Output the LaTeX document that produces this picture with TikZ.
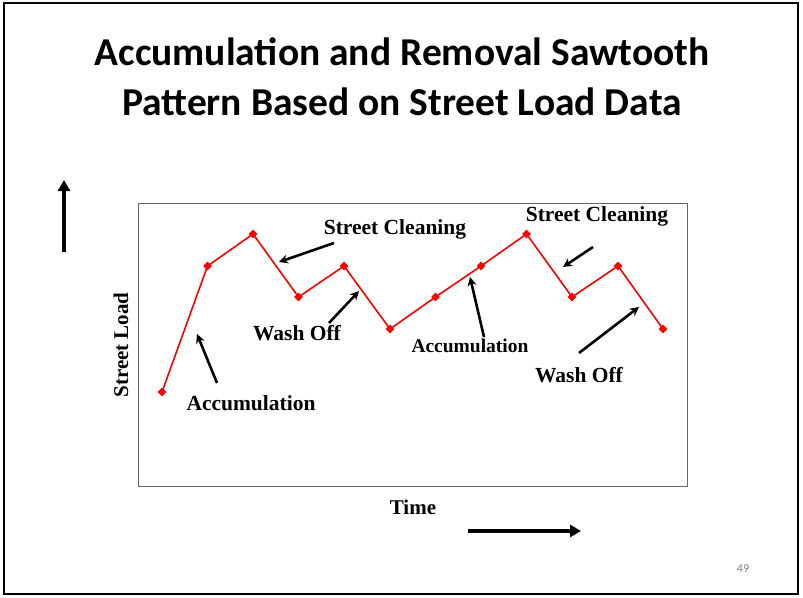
\documentclass[tikz,border=0pt]{standalone}
\usepackage{fontspec}
\setmainfont{Liberation Serif}
\newfontfamily\titlefont{Carlito}
\usetikzlibrary{shapes.geometric,arrows.meta}
\begin{document}
\begin{tikzpicture}[x=1pt,y=-1pt,
  pt/.style={diamond,fill=red,inner sep=0pt,minimum size=9pt},
  lbl/.style={font=\fontsize{21.5}{24}\selectfont\bfseries,inner sep=0pt},
  axl/.style={font=\fontsize{21}{24}\selectfont\bfseries,inner sep=0pt},
  ann/.style={line width=2.6pt,-{Stealth[length=9pt,width=9pt]}},
  big/.style={line width=4pt,-{Triangle[length=11pt,width=12pt]}}]
\useasboundingbox (0,0) rectangle (803,597);
\draw[line width=1.5pt] (4,3) rectangle (798,594);
\node[font=\titlefont\fontsize{39.5}{49.5}\selectfont\bfseries,align=center] (title) at (402,77)
  {Accumulation and Removal Sawtooth\\Pattern Based on Street Load Data};
\draw[gray!80!black,line width=0.9pt] (138,203) rectangle (687,486);
\foreach \i/\x/\y in {1/162/392,2/207.5/266,3/253/234,4/298.5/297,5/344/266,6/390/329,7/435.5/297,8/481/266,9/526.5/234,10/572/297,11/618/266,12/663/329}
  \node[pt] (p\i) at (\x,\y) {};
\draw[red,line width=1.6pt] (p1.center) -- (p2.center) -- (p3.center) -- (p4.center) -- (p5.center) -- (p6.center) -- (p7.center) -- (p8.center) -- (p9.center) -- (p10.center) -- (p11.center) -- (p12.center);
\node[lbl] (sc1) at (395,229) {Street Cleaning};
\node[lbl] (sc2) at (597,216) {Street Cleaning};
\node[lbl] (wo1) at (297,333) {Wash Off};
\node[lbl] (wo2) at (579,375) {Wash Off};
\node[lbl] (ac1) at (251,403) {Accumulation};
\node[lbl,font=\fontsize{19.5}{22}\selectfont\bfseries] (ac2) at (470,346) {Accumulation};
\node[axl,rotate=90] (sl) at (121,345) {Street Load};
\node[axl] (time) at (413,507) {Time};
\node[font=\titlefont\fontsize{12}{14}\selectfont,text=gray] (pg) at (743,569) {49};
\coordinate (a1s) at (334,243); \coordinate (a1e) at (279,262);
\coordinate (a2s) at (329,323); \coordinate (a2e) at (359,291);
\coordinate (a3s) at (217,383); \coordinate (a3e) at (197,334);
\coordinate (a4s) at (484,337); \coordinate (a4e) at (470,277);
\coordinate (a5s) at (593,247); \coordinate (a5e) at (563,267);
\coordinate (a6s) at (579,353); \coordinate (a6e) at (639,307);
\draw[ann] (a1s) -- (a1e);
\draw[ann] (a2s) -- (a2e);
\draw[ann] (a3s) -- (a3e);
\draw[ann] (a4s) -- (a4e);
\draw[ann] (a5s) -- (a5e);
\draw[ann] (a6s) -- (a6e);
\coordinate (ys) at (64,252); \coordinate (ye) at (64,180);
\coordinate (xs) at (468,531); \coordinate (xe) at (581,531);
\draw[big] (ys) -- (ye);
\draw[big] (xs) -- (xe);
\end{tikzpicture}
\end{document}
